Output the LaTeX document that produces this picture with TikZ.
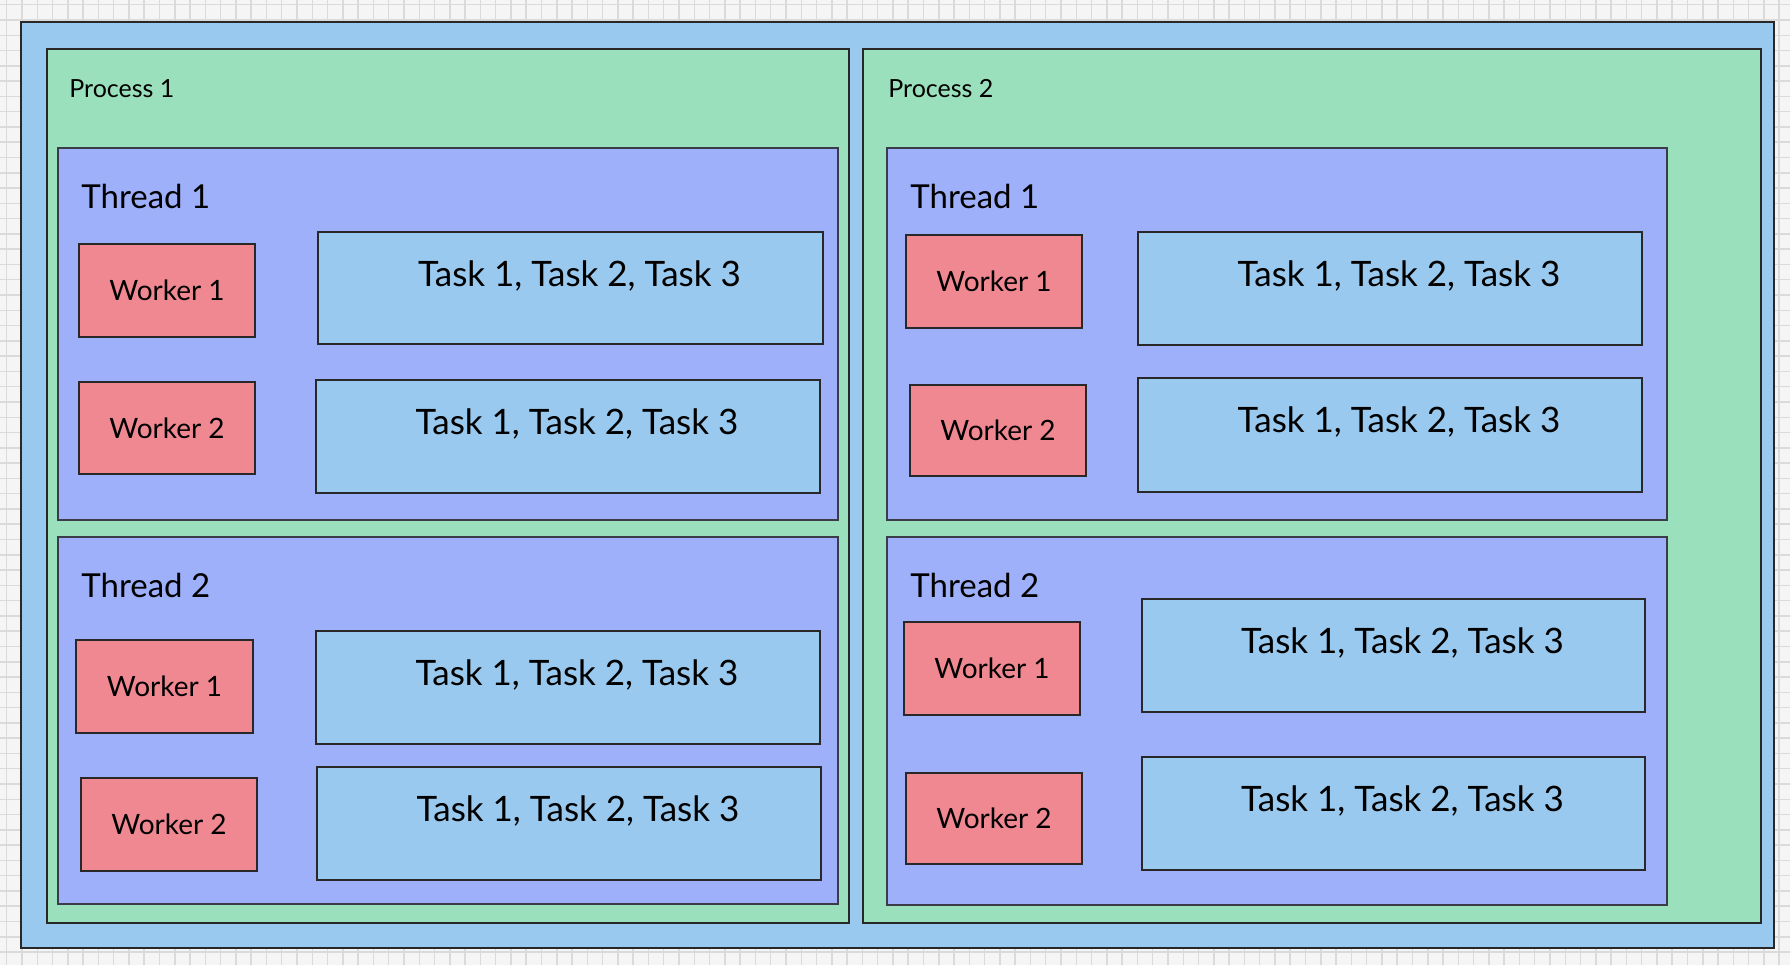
\documentclass[tikz,border=0pt]{standalone}
\usepackage{fontspec}
\setmainfont{Lato}
\definecolor{paper}{RGB}{245,245,245}
\definecolor{gridgray}{RGB}{218,218,218}
\definecolor{edgegray}{RGB}{40,40,40}
\definecolor{outerblue}{RGB}{153,201,238}
\definecolor{procgreen}{RGB}{155,224,188}
\definecolor{threadblue}{RGB}{158,176,250}
\definecolor{workerred}{RGB}{240,136,145}
\begin{document}
\begin{tikzpicture}
[x=0.5pt,y=-0.5pt,
 boxstyle/.style={draw=edgegray,line width=1.2pt,inner sep=0pt,outer sep=0pt},
 outerbox/.style={boxstyle,fill=outerblue,line width=1.4pt},
 procbox/.style={boxstyle,fill=procgreen},
 threadbox/.style={boxstyle,fill=threadblue,draw=edgegray!85!threadblue,line width=1.1pt},
 workerbox/.style={boxstyle,fill=workerred,font=\fontsize{14}{16}\selectfont},
 taskbox/.style={boxstyle,fill=outerblue},
 tasktext/.style={font=\fontsize{17.5}{20}\selectfont,inner sep=0pt},
 proctext/.style={anchor=base west,font=\fontsize{12.5}{14}\selectfont,inner sep=0pt},
 threadtext/.style={anchor=base west,font=\fontsize{16.5}{18}\selectfont,inner sep=0pt}]
%% paper with grid
\fill[paper] (0,0) rectangle (1790,965);
\useasboundingbox (0,0) rectangle (1790,965);
\foreach \k in {0,...,116} {
  \draw[gridgray,line width=0.75pt] ({6.7+15.28*\k},0) -- ({6.7+15.28*\k},965);
}
\foreach \k in {0,...,63} {
  \draw[gridgray,line width=0.75pt] (0,{4.7+15.28*\k}) -- (1790,{4.7+15.28*\k});
}
%% outer frame and the two processes
\node[outerbox,minimum width=876.5pt,minimum height=463pt] (outer) at (897.5,485) {};
\node[procbox,minimum width=401pt,minimum height=437pt] (proc1) at (448,486) {};
\node[procbox,minimum width=449pt,minimum height=437pt] (proc2) at (1312,486) {};
\node[proctext] (proc1lbl) at (69,97) {Process 1};
\node[proctext] (proc2lbl) at (888,97) {Process 2};
%% threads
\foreach \nm/\xa/\ya/\xb/\yb/\txt in {p1t1/58/148/838/520/Thread 1, p1t2/58/537/838/904/Thread 2,
  p2t1/887/148/1667/520/Thread 1, p2t2/887/537/1667/905/Thread 2} {
  \node[threadbox,minimum width={(\xb-\xa)*0.5pt},minimum height={(\yb-\ya)*0.5pt}]
    (\nm) at ({(\xa+\xb)/2},{(\ya+\yb)/2}) {};
  \node[threadtext] (\nm lbl) at ({\xa+23},{\ya+60}) {\txt};
}
%% workers
\foreach \nm/\xa/\ya/\xb/\yb/\txt in {p1t1w1/79/244/255/337/Worker 1, p1t1w2/79/382/255/474/Worker 2,
  p1t2w1/76/640/253/733/Worker 1, p1t2w2/81/778/257/871/Worker 2,
  p2t1w1/906/235/1082/328/Worker 1, p2t1w2/910/385/1086/476/Worker 2,
  p2t2w1/904/622/1080/715/Worker 1, p2t2w2/906/773/1082/864/Worker 2} {
  \node[workerbox,minimum width={(\xb-\xa)*0.5pt},minimum height={(\yb-\ya)*0.5pt}]
    (\nm) at ({(\xa+\xb)/2},{(\ya+\yb)/2}) {\txt};
}
%% task lists
\foreach \nm/\xa/\ya/\xb/\yb in {p1t1k1/318/232/823/344, p1t1k2/316/380/820/493,
  p1t2k1/316/631/820/744, p1t2k2/317/767/821/880,
  p2t1k1/1138/232/1642/345, p2t1k2/1138/378/1642/492,
  p2t2k1/1142/599/1645/712, p2t2k2/1142/757/1645/870} {
  \node[taskbox,minimum width={(\xb-\xa)*0.5pt},minimum height={(\yb-\ya)*0.5pt}]
    (\nm) at ({(\xa+\xb)/2},{(\ya+\yb)/2}) {};
  \node[tasktext] (\nm lbl) at ({(\xa+\xb)/2+9},{\ya+44}) {Task 1, Task 2, Task 3};
}
\end{tikzpicture}
\end{document}
